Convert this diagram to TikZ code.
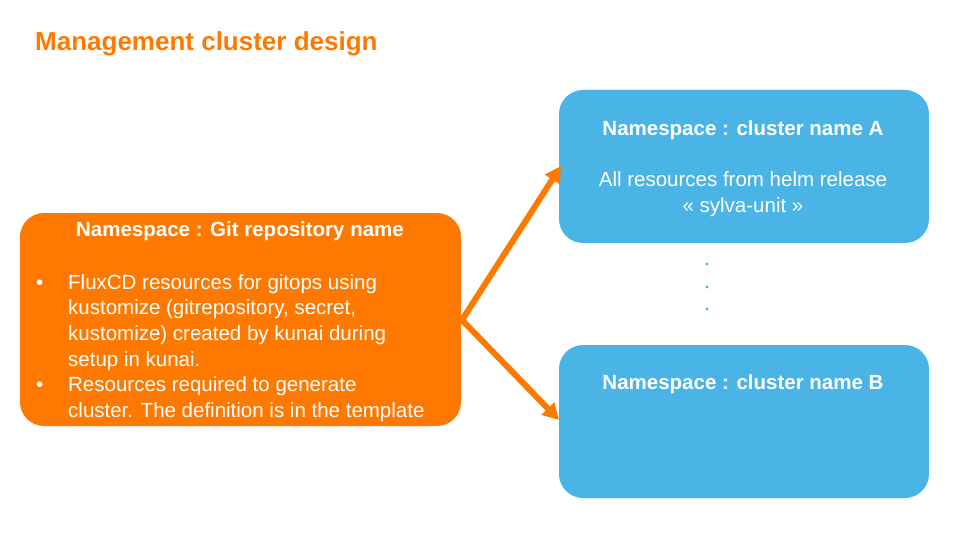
\documentclass[tikz,border=0pt]{standalone}
\usepackage{fontspec}
\setmainfont{Liberation Sans}
\usetikzlibrary{arrows.meta}
\definecolor{org}{HTML}{FF7900}
\definecolor{blu}{HTML}{4BB4E6}
\begin{document}
\begin{tikzpicture}[x=1pt,y=-1pt,
 box/.style={rounded corners=24pt,draw=none},
 arr/.style={draw=org,line width=6pt,-{Triangle[length=16pt,width=17pt]}},
 txt/.style={text=white,font=\fontsize{20.5pt}{25.7pt}\selectfont},
 hd/.style={text=white,font=\fontsize{20.5pt}{25pt}\selectfont\bfseries}]
\useasboundingbox (0,0) rectangle (960,540);
\fill[org,box] (20,213) rectangle (461,426);
\fill[blu,box] (559,90) rectangle (929,243);
\fill[blu,box] (559,345) rectangle (929,498);
\node[anchor=west,text=org,font=\fontsize{26pt}{30pt}\selectfont\bfseries,inner sep=0pt] (title) at (35,44) {Management cluster design};
\node[hd] (h1) at (240,231) {Namespace : Git repository name};
\node[txt,anchor=north west,inner sep=0pt] (b1) at (36,271) {%
\begin{tabular}{@{}p{32pt}@{}l@{}}
\textbullet & FluxCD resources for gitops using\\
 & kustomize (gitrepository, secret,\\
 & kustomize) created by kunai during\\
 & setup in kunai.\\
\textbullet & Resources required to generate\\
 & cluster. The definition is in the template
\end{tabular}};
\node[hd] (hA) at (743,130) {Namespace : cluster name A};
\node[txt,align=center] (bA) at (743,194) {All resources from helm release\\« sylva-unit »};
\node[hd] (hB) at (743,384) {Namespace : cluster name B};
\coordinate (s) at (462,320);
\coordinate (tA) at (561,166);
\coordinate (tB) at (559,420);
\draw[arr] (s) -- (tA);
\draw[arr] (s) -- (tB);
\foreach \y/\n in {264/d1,287/d2,309/d3} \fill[blu] (707,\y) circle (1.6pt) coordinate (\n);
\end{tikzpicture}
\end{document}
